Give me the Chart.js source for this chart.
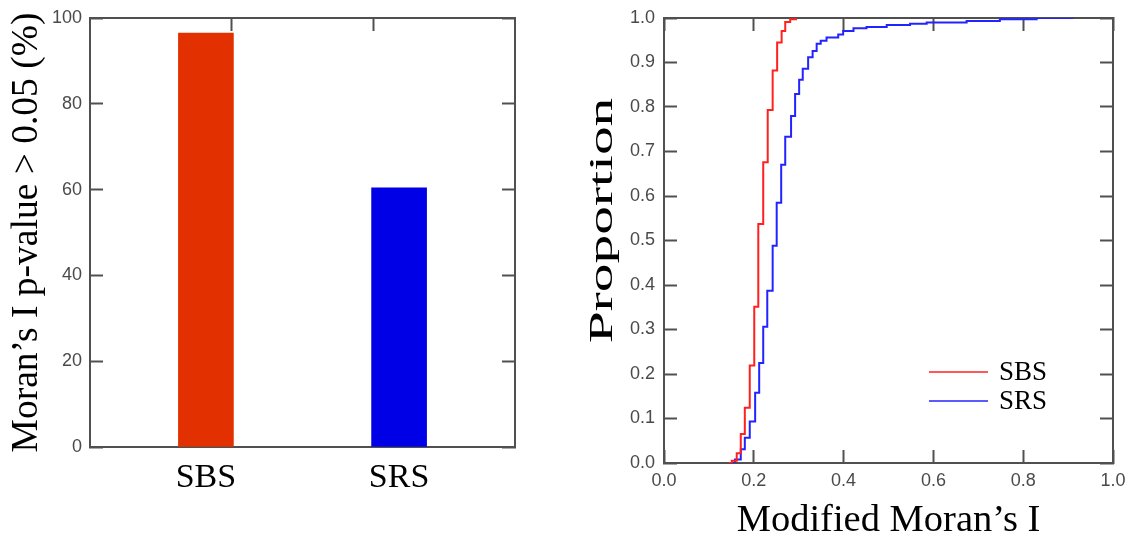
<!DOCTYPE html>
<html>
<head>
<meta charset="utf-8">
<script src="https://cdn.jsdelivr.net/npm/chart.js@4.4.1/dist/chart.umd.min.js"></script>
<style>
  body { margin: 0; background: #fff; }
  #wrap { position: relative; width: 1130px; height: 540px; }
  #bars { position: absolute; left: 0; top: 0; }
  #ecdf { position: absolute; left: 560px; top: 0; }
</style>
</head>
<body>
<div id="wrap">
  <canvas id="bars" width="560" height="540"></canvas>
  <canvas id="ecdf" width="570" height="540"></canvas>
</div>
<script>
// bar panel: share of runs with Moran's I p-value above 0.05
const categories = ['SBS', 'SRS'];
const pctAbove = [96.5, 60.4];
const barColors = ['#e33000', '#0000e6'];

// ECDF panel: step positions (modified Moran's I) and cumulative proportions
const sbsX = [0.143, 0.151, 0.162, 0.171, 0.180, 0.191, 0.201, 0.210, 0.221, 0.231, 0.242, 0.252, 0.262, 0.270, 0.281, 0.294];
const sbsY = [0, 0.005, 0.022, 0.065, 0.124, 0.219, 0.351, 0.537, 0.676, 0.793, 0.882, 0.945, 0.971, 0.991, 0.997, 1.0];
const srsX = [0.143, 0.158, 0.171, 0.180, 0.191, 0.203, 0.212, 0.221, 0.230, 0.242, 0.251, 0.261, 0.270, 0.283, 0.292, 0.301, 0.309,
              0.321, 0.331, 0.340, 0.349, 0.362, 0.388, 0.399, 0.422, 0.451, 0.496, 0.548, 0.585, 0.674, 0.748, 0.830, 0.912];
const srsY = [0, 0.008, 0.031, 0.057, 0.093, 0.158, 0.225, 0.306, 0.387, 0.488, 0.585, 0.670, 0.733, 0.780, 0.829, 0.861, 0.886,
              0.912, 0.926, 0.942, 0.949, 0.956, 0.963, 0.971, 0.977, 0.980, 0.984, 0.987, 0.990, 0.993, 0.997, 1.0, 1.0];

const serif = '"Liberation Serif", "Times New Roman", serif';
const sans = '"Liberation Sans", Arial, sans-serif';
const axisColor = '#505050';
const tickFont = { family: sans, size: 18, lineHeight: 1 };
const tickColor = '#4a4a4a';

const frame = { display: true, color: axisColor, width: 2 };
// tick marks pointing into the plot
const inward = { drawOnChartArea: false, drawTicks: true, tickLength: -13, tickWidth: 2, tickColor: axisColor, offset: false };
const noGrid = { display: false, drawTicks: false, offset: false };

// fixed box sizes so every plot frame lands in the same place; label overhang is ignored
const fixWidth = w => s => { s.width = w; s.paddingTop = s.paddingBottom = s.paddingLeft = s.paddingRight = 0; };
const fixHeight = h => s => { s.height = h; s.paddingTop = s.paddingBottom = s.paddingLeft = s.paddingRight = 0; };

new Chart(document.getElementById('bars'), {
    type: 'bar',
    data: {
        datasets: [{
            data: pctAbove.map((v, i) => ({ x: i, y: v })),
            backgroundColor: barColors,
            barThickness: 55
        }]
    },
    options: {
        responsive: false,
        animation: false,
        layout: { padding: 0 },
        plugins: { legend: { display: false }, tooltip: { enabled: false } },
        scales: {
            x: {
                type: 'linear', position: 'bottom', min: -0.6, max: 1.6, offset: false,
                afterBuildTicks: s => { s.ticks = categories.map((c, i) => ({ value: i })); },
                afterFit: fixHeight(93),
                grid: noGrid,
                border: frame,
                ticks: {
                    callback: v => categories[v] ?? '',
                    font: { family: serif, size: 34, lineHeight: 1 },
                    color: '#000', padding: 14, maxRotation: 0, autoSkip: false
                }
            },
            x2: {
                type: 'linear', position: 'top', min: 0, max: 3, offset: false,
                afterBuildTicks: s => { s.ticks = [{ value: 1 }, { value: 2 }]; },
                afterFit: fixHeight(18),
                grid: inward,
                border: frame,
                ticks: { display: false }
            },
            y: {
                position: 'left', min: 0, max: 100,
                afterFit: fixWidth(90),
                grid: inward,
                border: frame,
                ticks: { stepSize: 20, font: tickFont, color: tickColor, padding: 21 },
                title: {
                    display: true, text: 'Moran’s I p-value > 0.05 (%)', color: '#000',
                    font: { family: serif, size: 37.5, lineHeight: 1 }, padding: { top: 8, bottom: 0 }
                }
            },
            yR: {
                position: 'right', min: 0, max: 100,
                afterFit: fixWidth(45),
                grid: inward,
                border: frame,
                ticks: { stepSize: 20, display: false }
            }
        }
    }
});

// y title drawn with a stretch along the text
const stretchedYTitle = {
    id: 'stretchedYTitle',
    afterDraw(chart, args, opts) {
        const { ctx, chartArea } = chart;
        ctx.save();
        ctx.font = `${opts.size}px ${serif}`;
        ctx.fillStyle = '#000';
        ctx.textAlign = 'center';
        ctx.textBaseline = 'alphabetic';
        ctx.translate(opts.baselineX, (chartArea.top + chartArea.bottom) / 2 + opts.shiftY);
        ctx.rotate(-Math.PI / 2);
        ctx.scale(opts.stretch, 1);
        ctx.fillText(opts.text, 0, 0);
        ctx.restore();
    }
};

// small line legend inside the plot
const insideLegend = {
    id: 'insideLegend',
    afterDraw(chart, args, opts) {
        const { ctx, chartArea } = chart;
        ctx.save();
        ctx.font = `${opts.size}px ${serif}`;
        ctx.textBaseline = 'middle';
        ctx.textAlign = 'left';
        chart.data.datasets.forEach((ds, i) => {
            const x = chartArea.left + opts.dx;
            const y = chartArea.top + opts.dy + i * opts.rowHeight;
            ctx.strokeStyle = ds.borderColor;
            ctx.lineWidth = 1.5;
            ctx.beginPath();
            ctx.moveTo(x, y);
            ctx.lineTo(x + opts.lineLength, y);
            ctx.stroke();
            ctx.fillStyle = '#000';
            ctx.fillText(ds.label, x + opts.lineLength + opts.gap, y + 1);
        });
        ctx.restore();
    }
};

const stepLine = (label, xs, ys, color) => ({
    label,
    data: xs.map((x, i) => ({ x, y: ys[i] })),
    borderColor: color,
    borderWidth: 2,
    stepped: true,
    pointRadius: 0,
    fill: false
});

new Chart(document.getElementById('ecdf'), {
    type: 'line',
    data: {
        datasets: [
            stepLine('SBS', sbsX, sbsY, '#ff2020'),
            stepLine('SRS', srsX, srsY, '#2323ff')
        ]
    },
    options: {
        responsive: false,
        animation: false,
        layout: { padding: 0 },
        plugins: {
            legend: { display: false },
            tooltip: { enabled: false },
            stretchedYTitle: { text: 'Proportion', size: 33, stretch: 1.74, baselineX: 52, shiftY: -20 },
            insideLegend: { dx: 265, dy: 354, rowHeight: 29, lineLength: 59, gap: 11, size: 27 }
        },
        scales: {
            x: {
                type: 'linear', position: 'bottom', min: 0, max: 1,
                afterFit: fixHeight(77),
                grid: inward,
                border: frame,
                ticks: { stepSize: 0.2, callback: v => v.toFixed(1), font: tickFont, color: tickColor, padding: 22, maxRotation: 0 },
                title: {
                    display: true, text: 'Modified Moran’s I', color: '#000',
                    font: { family: serif, size: 38.5, lineHeight: 1 }, padding: { top: 0, bottom: 0 }
                }
            },
            xTop: {
                type: 'linear', position: 'top', min: 0, max: 1,
                afterFit: fixHeight(18),
                grid: inward,
                border: frame,
                ticks: { stepSize: 0.2, display: false }
            },
            y: {
                position: 'left', min: 0, max: 1,
                afterFit: fixWidth(104),
                grid: inward,
                border: frame,
                ticks: { stepSize: 0.1, callback: v => v.toFixed(1), font: tickFont, color: tickColor, padding: 22 }
            },
            yR: {
                position: 'right', min: 0, max: 1,
                afterFit: fixWidth(17),
                grid: inward,
                border: frame,
                ticks: { stepSize: 0.1, display: false }
            }
        }
    },
    plugins: [stretchedYTitle, insideLegend]
});
</script>
</body>
</html>
